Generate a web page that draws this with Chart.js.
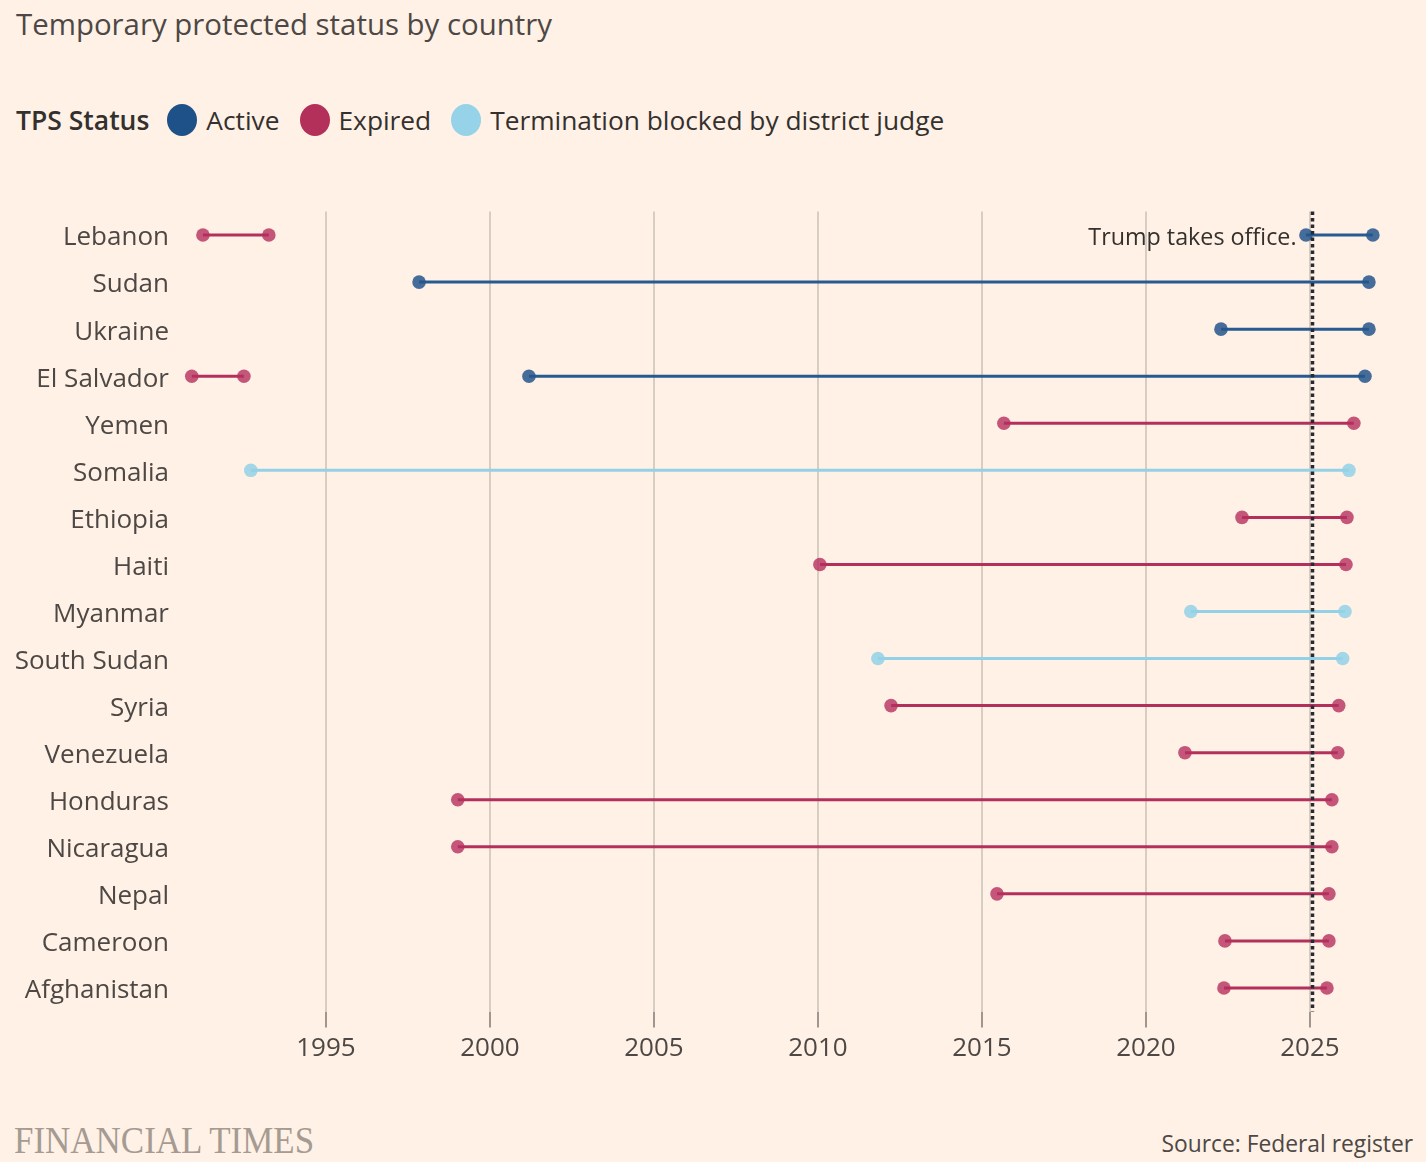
<!DOCTYPE html>
<html>
<head>
<meta charset="utf-8">
<script src="https://cdn.jsdelivr.net/npm/chart.js@4"></script>
<style>
  html, body { margin: 0; padding: 0; background: #fff1e5; }
  body { width: 1426px; height: 1162px; position: relative; overflow: hidden; font-family: "Open Sans", sans-serif; color: #33302e; }
  #title { position: absolute; left: 16px; top: 4px; font-size: 29.4px; color: #4d4845; }
  #legend { position: absolute; left: 16px; top: 102px; font-size: 26.3px; display: flex; align-items: center; color: #33302e; }
  #legend b { font-weight: 600; font-size: 26.5px; margin-right: 18px; }
  #legend .dot { width: 30px; height: 32px; border-radius: 50%; display: inline-block; margin-right: 9px; }
  #legend .item { display: flex; align-items: center; margin-right: 20px; }
  #wrap { position: absolute; left: 0; top: 0; width: 1426px; height: 1100px; }
  #ft { position: absolute; left: 14px; top: 1118px; font-family: "Liberation Serif", serif; font-size: 38px; color: #a59b92; transform: scaleX(0.92); transform-origin: left; white-space: nowrap; }
  #source { position: absolute; right: 13px; top: 1128px; font-size: 22.8px; color: #4d4845; }
</style>
</head>
<body>
<div id="title">Temporary protected status by country</div>
<div id="legend"></div>
<div id="wrap"><canvas id="myChart"></canvas></div>
<div id="ft">FINANCIAL TIMES</div>
<div id="source">Source: Federal register</div>
<script>
const countries = ["Lebanon", "Sudan", "Ukraine", "El Salvador", "Yemen", "Somalia", "Ethiopia", "Haiti",
  "Myanmar", "South Sudan", "Syria", "Venezuela", "Honduras", "Nicaragua", "Nepal", "Cameroon", "Afghanistan"];

// one entry per line segment (start year, end year, status)
const segCountry = ["Lebanon", "Lebanon", "Sudan", "Ukraine", "El Salvador", "El Salvador", "Yemen", "Somalia",
  "Ethiopia", "Haiti", "Myanmar", "South Sudan", "Syria", "Venezuela", "Honduras", "Nicaragua", "Nepal",
  "Cameroon", "Afghanistan"];
const segStart = [1991.25, 2024.88, 1997.84, 2022.29, 1990.91, 2001.19, 2015.67, 1992.71,
  2022.93, 2010.06, 2021.37, 2011.83, 2012.23, 2021.19, 1999.02, 1999.02, 2015.46,
  2022.41, 2022.38];
const segEnd = [1993.26, 2026.92, 2026.80, 2026.80, 1992.50, 2026.68, 2026.34, 2026.19,
  2026.13, 2026.10, 2026.07, 2026.00, 2025.88, 2025.85, 2025.67, 2025.67, 2025.58,
  2025.58, 2025.52];
const segStatus = ["Expired", "Active", "Active", "Active", "Expired", "Active", "Expired", "Blocked",
  "Expired", "Expired", "Blocked", "Blocked", "Expired", "Expired", "Expired", "Expired", "Expired",
  "Expired", "Expired"];

const statusNames = ["Active", "Expired", "Blocked"];
const statusLabels = ["Active", "Expired", "Termination blocked by district judge"];
const xTicks = [1995, 2000, 2005, 2010, 2015, 2020, 2025];
const trumpDate = 2025.05;

const lineColors = { Active: "#265a91", Expired: "#b3305d", Blocked: "#93d1e6" };
const dotColors = { Active: "rgba(38,86,140,0.85)", Expired: "rgba(181,48,94,0.8)", Blocked: "rgba(147,209,230,0.85)" };
const legendColors = { Active: "#1f5189", Expired: "#b3305b", Blocked: "#96d3e8" };

// html legend
const legend = document.getElementById("legend");
legend.innerHTML = "<b>TPS Status</b>" + statusNames.map((s, i) =>
  '<span class="item"><span class="dot" style="background:' + legendColors[s] + '"></span>' + statusLabels[i] + "</span>").join("");

const datasets = segCountry.map((c, i) => ({
  data: [{ x: segStart[i], y: c }, { x: segEnd[i], y: c }],
  borderColor: lineColors[segStatus[i]],
  borderWidth: 3,
  pointRadius: 6.8,
  pointBackgroundColor: dotColors[segStatus[i]],
  pointBorderWidth: 0,
  pointHoverRadius: 6.8
}));

const trumpLine = {
  id: "trumpLine",
  afterDatasetsDraw(chart) {
    const { ctx, chartArea, scales } = chart;
    const x = Math.round(scales.x.getPixelForValue(trumpDate)) + 0.5;
    ctx.save();
    ctx.strokeStyle = "#262a33";
    ctx.lineWidth = 3.5;
    ctx.setLineDash([3.5, 3]);
    ctx.beginPath();
    ctx.moveTo(x, chartArea.top);
    ctx.lineTo(x, chartArea.bottom);
    ctx.stroke();
    ctx.setLineDash([]);
    ctx.fillStyle = "#33302e";
    ctx.font = '23.3px "Open Sans"';
    ctx.textAlign = "right";
    ctx.textBaseline = "middle";
    ctx.fillText("Trump takes office.", x - 16, scales.y.getPixelForValue(0) + 3);
    ctx.restore();
  }
};

new Chart(document.getElementById("myChart"), {
  type: "line",
  data: { datasets: datasets },
  options: {
    responsive: true,
    maintainAspectRatio: false,
    animation: false,
    layout: { padding: { top: 211.5, right: 41, left: 0, bottom: 0 } },
    plugins: { legend: { display: false }, tooltip: { enabled: false } },
    scales: {
      x: {
        type: "linear",
        min: 1990.49,
        max: 2027.29,
        afterFit: (s) => { s.height = 88.5; },
        afterBuildTicks: (s) => { s.ticks = xTicks.map(v => ({ value: v })); },
        border: { display: false },
        grid: { color: "#d8cdc3", lineWidth: 2, tickColor: "#a0968e", tickLength: 16, drawTicks: true },
        ticks: { color: "#4d4845", font: { family: "Open Sans", size: 26 }, padding: 5, callback: (v) => String(v) }
      },
      y: {
        type: "category",
        labels: countries,
        offset: true,
        afterFit: (s) => { s.width = 178; },
        border: { display: false },
        grid: { display: false, drawTicks: false },
        ticks: { color: "#4d4845", font: { family: "Open Sans", size: 26 }, padding: 9, labelOffset: 3 }
      }
    }
  },
  plugins: [trumpLine]
});
</script>
</body>
</html>
